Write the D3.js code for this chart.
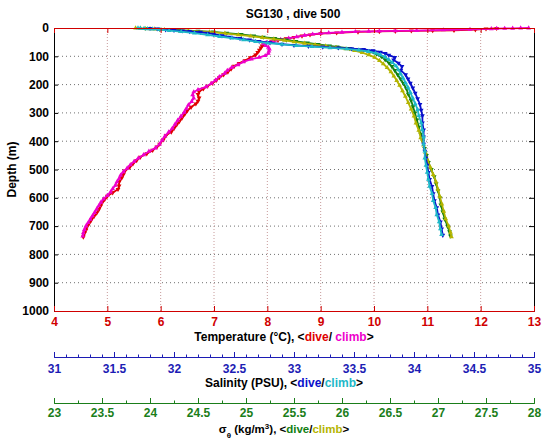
<!DOCTYPE html>
<html><head><meta charset="utf-8">
<script src="https://cdn.jsdelivr.net/npm/d3@7"></script>
<style>
body{margin:0;background:#fff;}
svg{font-family:"Liberation Sans",Arial,sans-serif;font-weight:bold;}
</style></head>
<body><svg id="c" width="543" height="442"></svg>
<script>
const title = "SG130 , dive 500";
const depthTicks = [0,100,200,300,400,500,600,700,800,900,1000];
const tempTicks = [4,5,6,7,8,9,10,11,12,13];
const salTicks = [31,31.5,32,32.5,33,33.5,34,34.5,35];
const sigTicks = [23,23.5,24,24.5,25,25.5,26,26.5,27,27.5,28];

// Temperature dive (red)
const tDiveDepth = [1,3,6,8,9,10,11,12,14,17,20,24,28,33,38,43,48,53,58,63,70,78,86,95,105,115,125,135,145,155,165,175,185,195,205,215,225,235,247,258,268,280,292,305,318,330,342,355,367,380,395,410,420,432,444,456,468,480,492,505,518,530,545,558,570,582,594,606,618,630,642,654,666,678,690,702,714,726,738];
const tDive = [12.3,12.1,11.9,11.5,11.1,10.7,10.4,10.1,9.7,9.3,9.0,8.8,8.65,8.5,8.35,8.2,8.08,7.98,7.93,7.9,7.88,7.85,7.82,7.78,7.68,7.58,7.47,7.38,7.32,7.26,7.18,7.1,7.04,6.97,6.88,6.8,6.72,6.7,6.72,6.7,6.66,6.57,6.5,6.45,6.4,6.35,6.3,6.25,6.2,6.1,6.05,5.98,5.93,5.85,5.74,5.62,5.55,5.48,5.42,5.33,5.3,5.27,5.22,5.22,5.2,5.1,5.0,4.95,4.9,4.87,4.84,4.8,4.75,4.7,4.66,4.62,4.6,4.57,4.55];
// Temperature climb (magenta)
const tClimbDepth = [0,0.5,1,1.5,2,3,5,7,9,10,11,12,13,15,17,19,22,26,31,36,41,46,51,56,62,68,75,82,90,98,104,110,120,130,140,150,160,172,184,196,208,218,226,236,248,260,272,285,298,312,326,340,354,368,382,396,410,424,436,448,460,472,484,496,508,520,532,544,556,568,580,592,604,616,628,640,652,664,676,688,700,712,724,735];
const tClimb = [12.9,12.75,12.6,12.45,12.3,12.2,11.8,11.3,10.8,10.4,10.1,9.9,9.65,9.4,9.15,9.0,8.85,8.7,8.55,8.4,8.25,8.1,7.98,7.93,7.97,8.02,8.04,8.03,8.02,7.96,7.85,7.7,7.55,7.45,7.33,7.25,7.2,7.1,7.03,6.95,6.85,6.7,6.62,6.6,6.62,6.58,6.52,6.48,6.44,6.38,6.32,6.27,6.22,6.15,6.08,6.03,5.98,5.9,5.78,5.68,5.58,5.5,5.43,5.37,5.3,5.25,5.22,5.18,5.15,5.1,5.06,5.0,4.93,4.88,4.84,4.8,4.76,4.72,4.68,4.64,4.6,4.57,4.55,4.54];

// Salinity dive (blue)
const sDiveDepth = [1,3,6,8,10,12,15,18,22,27,32,37,42,47,52,57,61,64,67,70,73,76,80,85,90,96,104,113,124,136,150,165,180,195,212,230,250,270,290,310,335,360,385,410,435,460,485,510,535,560,585,610,635,660,685,710,732];
const sDive = [31.80,31.86,31.93,32.00,32.07,32.13,32.22,32.28,32.33,32.40,32.47,32.55,32.63,32.71,32.80,32.90,33.00,33.12,33.24,33.37,33.48,33.58,33.66,33.72,33.76,33.79,33.84,33.83,33.87,33.90,33.89,33.93,33.95,33.97,33.99,34.01,34.03,34.05,34.06,34.07,34.07,34.08,34.08,34.08,34.09,34.10,34.11,34.12,34.13,34.15,34.16,34.17,34.19,34.20,34.22,34.23,34.24];
// Salinity climb (cyan)
const sClimbDepth = [0,1,2,3,4,6,9,13,18,24,30,36,42,48,53,58,62,66,70,74,78,83,89,95,103,112,122,134,148,163,178,194,210,228,248,268,288,310,335,360,385,410,435,460,485,510,535,560,585,610,635,660,685,710,730];
const sClimb = [31.70,31.72,31.75,31.78,31.82,31.88,31.96,32.06,32.17,32.28,32.38,32.48,32.58,32.68,32.78,32.90,33.02,33.15,33.30,33.44,33.54,33.62,33.68,33.72,33.76,33.79,33.82,33.85,33.87,33.89,33.91,33.93,33.95,33.97,33.99,34.01,34.03,34.04,34.06,34.07,34.08,34.08,34.09,34.09,34.10,34.11,34.12,34.13,34.15,34.16,34.18,34.19,34.21,34.22,34.23];

// Sigma-theta dive (green)
const gDiveDepth = [1,4,8,11,14,18,23,28,32,37,42,47,53,58,63,67,72,78,84,92,101,112,124,136,150,165,180,196,214,234,256,278,300,325,350,375,400,425,450,475,500,525,550,575,600,625,650,675,700,720,735];
const gDive = [23.95,24.1,24.3,24.5,24.66,24.8,24.95,25.08,25.18,25.30,25.42,25.52,25.64,25.75,25.87,25.95,26.08,26.20,26.29,26.36,26.41,26.45,26.49,26.52,26.55,26.58,26.61,26.64,26.67,26.69,26.72,26.74,26.76,26.78,26.80,26.82,26.84,26.86,26.88,26.90,26.93,26.96,26.98,27.00,27.02,27.03,27.05,27.07,27.10,27.12,27.13];
// Sigma-theta climb (olive)
const gClimbDepth = [0,1,2,3,4,6,10,14,19,24,29,34,39,44,49,54,59,64,69,74,80,87,95,104,115,127,140,155,170,186,203,222,242,264,287,311,336,362,388,414,440,466,492,518,544,570,596,622,648,674,700,722,738];
const gClimb = [23.85,23.9,23.95,24.0,24.05,24.15,24.4,24.62,24.78,24.92,25.05,25.17,25.29,25.40,25.50,25.61,25.72,25.83,25.94,26.04,26.13,26.21,26.28,26.34,26.39,26.43,26.47,26.51,26.54,26.57,26.60,26.63,26.66,26.69,26.72,26.75,26.77,26.80,26.82,26.85,26.87,26.89,26.92,26.95,26.98,27.00,27.02,27.04,27.06,27.08,27.11,27.13,27.14];

const C = {red:"#e00000", mag:"#ee00cc", blue:"#0a10cc", cyan:"#1fb8c8", green:"#128012", olive:"#b4b400",
           salAxis:"#1c1cb4", sigAxis:"#1a7e1a", tAxis:"#d00000"};

const L=54, R=534, T=28, B=311;
const svg = d3.select("#c");
const y = d3.scaleLinear().domain([0,1000]).range([T,B]);
const xT = d3.scaleLinear().domain([4,13]).range([L,R]);
const xS = d3.scaleLinear().domain([31,35]).range([L,R]);
const xG = d3.scaleLinear().domain([23,28]).range([L,R]);

// grid
svg.append("g").selectAll("line").data(depthTicks.slice(1,-1)).join("line")
  .attr("x1",L).attr("x2",R).attr("y1",d=>y(d)).attr("y2",d=>y(d))
  .attr("stroke","#707070").attr("stroke-width",1).attr("stroke-dasharray","1,3");
svg.append("g").selectAll("line").data(tempTicks.slice(1,-1)).join("line")
  .attr("y1",T).attr("y2",B).attr("x1",d=>xT(d)).attr("x2",d=>xT(d))
  .attr("stroke","#c79a9a").attr("stroke-width",1).attr("stroke-dasharray","1,2");

function styleAxis(g,color,fs){
  g.select(".domain").attr("stroke",color).attr("stroke-width",1);
  g.selectAll(".tick line").attr("stroke",color);
  g.selectAll(".tick text").attr("fill",color).attr("font-size",fs).attr("font-weight","bold")
   .attr("font-family","Liberation Sans, Arial, sans-serif");
}

// series
function series(depths, vals, xs, color, down){
  const pts = depths.map((d,i)=>[xs(vals[i]), y(d)]);
  svg.append("path").attr("d", d3.line()(pts)).attr("fill","none")
     .attr("stroke",color).attr("stroke-width",1.8).attr("stroke-linejoin","round");
  const sym = d3.symbol().type(d3.symbolTriangle).size(10);
  svg.append("g").selectAll("path").data(pts).join("path")
     .attr("d",sym).attr("transform",p=>`translate(${p[0]},${p[1]}) rotate(${down?180:0})`)
     .attr("fill",color);
}
series(tDiveDepth,tDive,xT,C.red,true);
series(tClimbDepth,tClimb,xT,C.mag,false);
series(gDiveDepth,gDive,xG,C.green,true);
series(gClimbDepth,gClimb,xG,C.olive,false);
series(sDiveDepth,sDive,xS,C.blue,true);
series(sClimbDepth,sClimb,xS,C.cyan,false);

// axes
const gl = svg.append("g").attr("transform",`translate(${L},0)`)
  .call(d3.axisLeft(y).tickValues(depthTicks).tickSize(-4).tickPadding(5).tickFormat(d3.format("d")));
styleAxis(gl,"#000","12px");
const gr = svg.append("g").attr("transform",`translate(${R},0)`)
  .call(d3.axisRight(y).tickValues(depthTicks).tickSize(-5).tickFormat(""));
styleAxis(gr,"#000","12px");
const gt = svg.append("g").attr("transform",`translate(0,${T})`)
  .call(d3.axisTop(xT).tickValues(tempTicks).tickSize(-5).tickFormat(""));
styleAxis(gt,C.tAxis,"12px");
const gb = svg.append("g").attr("transform",`translate(0,${B})`)
  .call(d3.axisBottom(xT).tickValues(tempTicks).tickSize(-5).tickPadding(6).tickFormat(d3.format("d")));
styleAxis(gb,C.tAxis,"12px");

// salinity axis
const salMinor = d3.range(310,351).map(v=>v/10).filter(v=>!salTicks.some(t=>Math.abs(t-v)<1e-6));
const SY = 357;
const gsm = svg.append("g").attr("transform",`translate(0,${SY})`)
  .call(d3.axisBottom(xS).tickValues(salMinor).tickSize(-2.5).tickFormat(""));
styleAxis(gsm,C.salAxis,"12px");
const gs = svg.append("g").attr("transform",`translate(0,${SY})`)
  .call(d3.axisBottom(xS).tickValues(salTicks).tickSize(-5).tickPadding(7).tickFormat(d=>String(d)));
styleAxis(gs,C.salAxis,"12px");

// sigma axis
const sigMinor = d3.range(92,113).map(v=>v/4).filter(v=>!sigTicks.some(t=>Math.abs(t-v)<1e-6));
const GY = 403;
const ggm = svg.append("g").attr("transform",`translate(0,${GY})`)
  .call(d3.axisBottom(xG).tickValues(sigMinor).tickSize(-2.5).tickFormat(""));
styleAxis(ggm,C.sigAxis,"12px");
const gg = svg.append("g").attr("transform",`translate(0,${GY})`)
  .call(d3.axisBottom(xG).tickValues(sigTicks).tickSize(-5).tickPadding(5).tickFormat(d=>String(d)));
styleAxis(gg,C.sigAxis,"12px");

// titles
svg.append("text").attr("x",293).attr("y",18).attr("text-anchor","middle").attr("font-size","12px").text(title);
svg.append("text").attr("transform",`translate(16,${(T+B)/2}) rotate(-90)`).attr("text-anchor","middle")
  .attr("font-size","12px").text("Depth (m)");

function label(yPos, parts, fs){
  const t = svg.append("text").attr("x",284).attr("y",yPos).attr("text-anchor","middle").attr("font-size",fs||"12px");
  parts.forEach(p=>{
    const s = t.append("tspan").text(p[0]).attr("fill",p[1]||"#000");
    if(p[2]) s.attr("baseline-shift",p[2]).attr("font-size","8px");
  });
}
label(341,[["Temperature ("],["°"],["C), <"],["dive",C.red],["/ "],["climb",C.mag],[">"]]);
label(387,[["Salinity (PSU), <"],["dive",C.blue],["/"],["climb",C.cyan],[">"]]);
label(433,[["σ"],["θ","#000","sub"],[" (kg/m"],["3","#000","super"],["), <"],["dive",C.green],["/"],["climb",C.olive],[">"]],"11.5px");
</script></body></html>
